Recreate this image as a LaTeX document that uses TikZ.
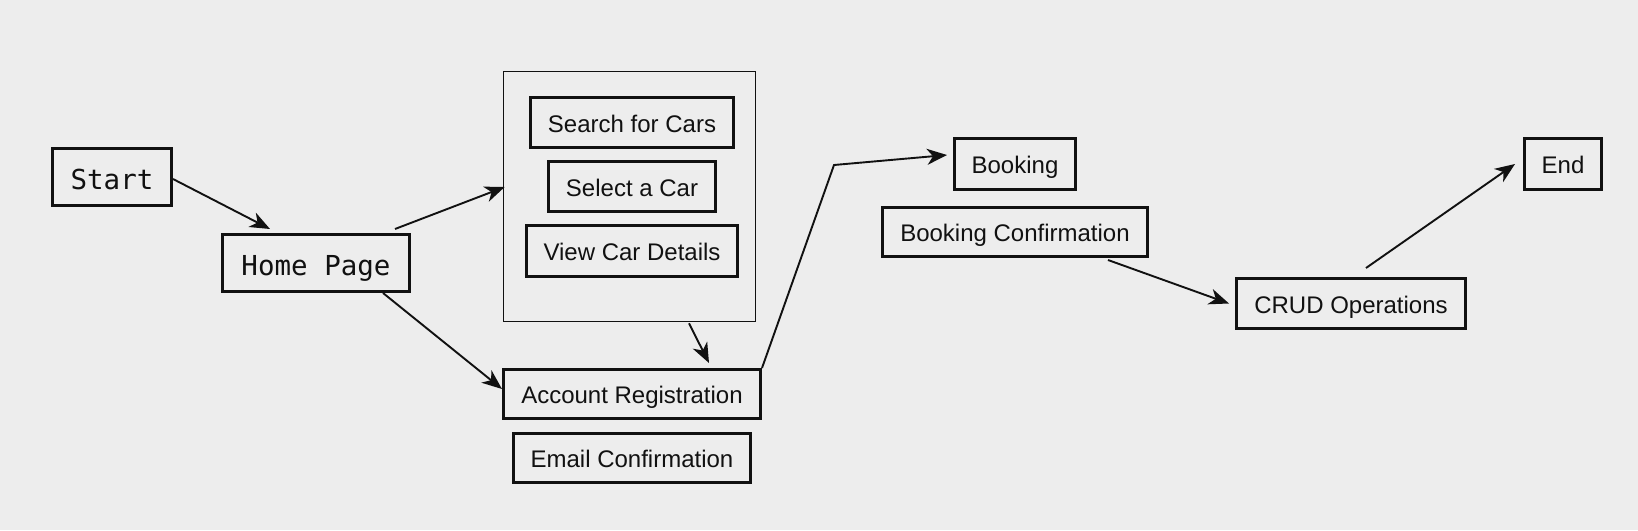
\documentclass[tikz,border=0pt]{standalone}
\usepackage{fontspec}
\setmainfont{Liberation Sans}
\newfontfamily\monof{DejaVu Sans Mono}
\usetikzlibrary{arrows.meta,calc}
\definecolor{bg}{HTML}{EDEDED}
\definecolor{ink}{HTML}{111111}
\begin{document}
\begin{tikzpicture}[x=1pt,y=-1pt,
 box/.style={draw=ink, line width=3pt, inner sep=0pt, text=ink, font=\fontsize{24}{28}\selectfont, text height=23pt, text depth=3.6pt},
 mbox/.style={box, font=\monof\fontsize{27.5}{32}\selectfont, text height=28pt, text depth=4pt},
 frame/.style={draw=ink, line width=1.6pt, inner sep=0pt},
 conn/.style={draw=ink, line width=1.9pt, -{Stealth[length=20pt,width=16pt,inset=6pt]}}]
\fill[bg] (0,0) rectangle (1638,530);
\useasboundingbox (0,0) rectangle (1638,530);

\node[mbox, minimum width=119pt, minimum height=57pt] (start) at (112,177) {Start};
\node[mbox, minimum width=187pt, minimum height=57pt] (home) at (316,263) {Home Page};
\node[frame, minimum width=252pt, minimum height=250pt] (outer) at (629.5,196.5) {};
\node[box, minimum width=203pt, minimum height=50pt] (search) at (632,122.5) {Search for Cars};
\node[box, minimum width=167pt, minimum height=50pt] (select) at (632,186.5) {Select a Car};
\node[box, minimum width=211pt, minimum height=51pt] (view) at (632,251) {View Car Details};
\node[box, minimum width=257pt, minimum height=49pt] (acc) at (632,394) {Account Registration};
\node[box, minimum width=237pt, minimum height=49pt] (email) at (632,458) {Email Confirmation};
\node[box, minimum width=121pt, minimum height=51pt] (book) at (1015,164) {Booking};
\node[box, minimum width=265pt, minimum height=49pt] (bconf) at (1015,232) {Booking Confirmation};
\node[box, minimum width=229pt, minimum height=50pt] (crud) at (1351,303.5) {CRUD Operations};
\node[box, minimum width=77pt, minimum height=51pt] (end) at (1563,164) {End};

\coordinate (bend) at (834,165);

\draw[conn] ([yshift=-2pt]start.east) -- ([xshift=49pt,yshift=4pt]home.north west);
\draw[conn] ([xshift=-16pt,yshift=4pt]home.north east) -- ([xshift=2pt,yshift=9.5pt]outer.west);
\draw[conn] ([xshift=-28pt]home.south east) -- ([yshift=5pt]acc.west);
\draw[conn] ([xshift=59.5pt,yshift=-1pt]outer.south) -- ([xshift=77pt,yshift=5pt]acc.north);
\draw[conn] (acc.north east) -- (bend) -- ([xshift=-6pt,yshift=9pt]book.west);
\draw[conn] ([xshift=-41pt,yshift=-2pt]bconf.south east) -- ([xshift=-6pt]crud.west);
\draw[conn] ([xshift=15pt,yshift=9pt]crud.north) -- ([xshift=-8pt]end.west);
\end{tikzpicture}
\end{document}
